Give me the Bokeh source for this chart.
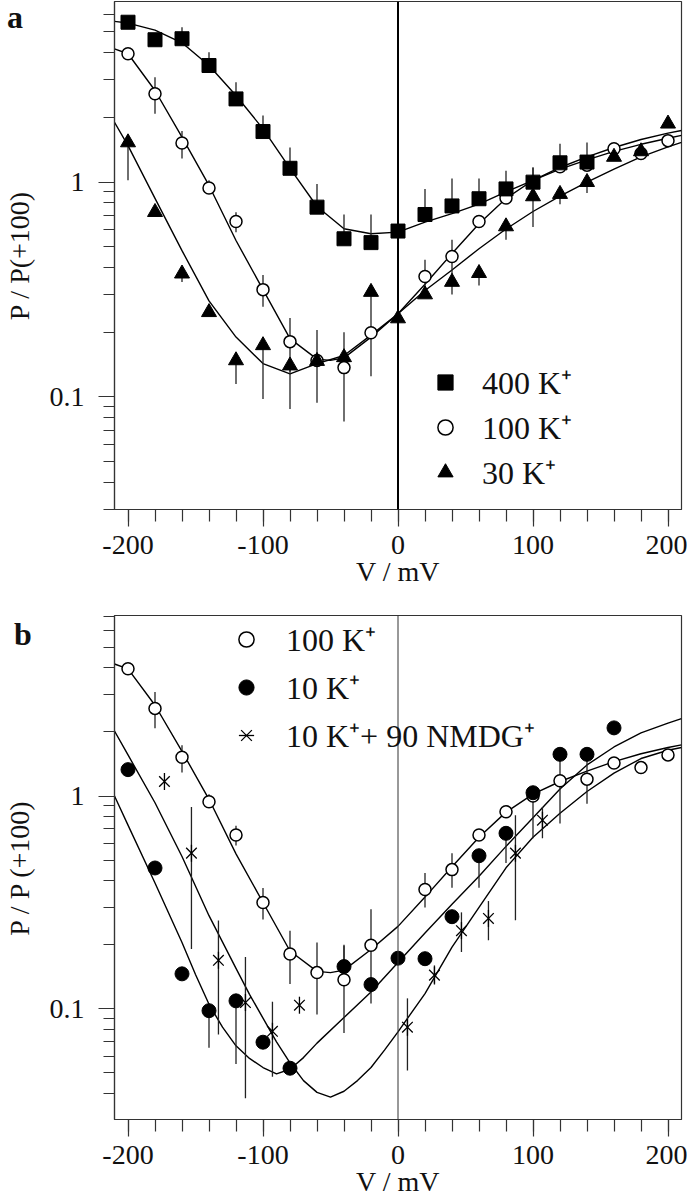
from bokeh.plotting import figure
from bokeh.layouts import column
from bokeh.models import (Range1d, FixedTicker, CustomJSTickFormatter, Span, Div,
                          Legend, LegendItem)
from bokeh.embed import file_html
from bokeh.resources import INLINE
import numpy as np

FONT = "Liberation Serif"

# ---------------- Panel a data ----------------
V_400 = [-200, -180, -160, -140, -120, -100, -80, -60, -40, -20, 0, 20, 40, 60, 80, 100, 120, 140]
P_400 = [5.55, 4.60, 4.65, 3.49, 2.44, 1.72, 1.16, 0.765, 0.545, 0.523, 0.592, 0.707, 0.775, 0.837, 0.93, 1.0, 1.23, 1.24]
HI_400 = [None, None, 5.26, 4.02, 2.92, 2.04, 1.45, 0.98, 0.707, 0.707, None, 0.93, 1.04, 1.04, 1.13, 1.17, 1.51, 1.53]

V_100 = [-200, -180, -160, -140, -120, -100, -80, -60, -40, -20, 20, 40, 60, 80, 100, 120, 140, 160, 180, 200]
P_100 = [3.96, 2.58, 1.52, 0.94, 0.656, 0.316, 0.181, 0.148, 0.137, 0.199, 0.364, 0.451, 0.656, 0.843, 1.0, 1.18, 1.2, 1.43, 1.36, 1.56]
LO_100 = [None, 2.08, 1.29, 0.88, 0.585, 0.263, 0.131, 0.094, 0.077, 0.125, 0.299, 0.371, None, None, None, None, None, None, None, None]
HI_100 = [None, 3.08, 1.73, 1.02, 0.725, 0.37, 0.233, 0.205, 0.20, 0.294, 0.435, 0.539, None, None, None, None, None, None, None, None]

V_30 = [-200, -180, -160, -140, -120, -100, -80, -60, -40, -20, 0, 20, 40, 60, 80, 100, 120, 140, 160, 180, 200]
P_30 = [1.53, 0.725, 0.375, 0.248, 0.148, 0.174, 0.14, 0.147, 0.153, 0.308, 0.232, 0.30, 0.343, 0.377, 0.622, 0.858, 0.88, 1.0, 1.31, 1.39, 1.87]
LO_30 = [1.02, None, 0.343, None, 0.115, 0.098, 0.088, None, None, None, None, None, 0.30, 0.33, 0.54, 0.618, 0.79, 0.89, None, None, None]
HI_30 = [None, None, None, None, None, None, None, None, None, None, None, None, None, None, None, 1.17, None, None, None, None, None]

# fitted curves
C400_V = [-210, -200, -180, -160, -140, -120, -100, -80, -60, -40, -20, 0, 20, 40, 60, 80, 100, 120, 140, 160, 180, 200, 210]
C400_P = [5.6, 5.5, 5.1, 4.45, 3.49, 2.53, 1.77, 1.16, 0.77, 0.607, 0.575, 0.585, 0.652, 0.713, 0.79, 0.90, 1.02, 1.15, 1.27, 1.39, 1.50, 1.60, 1.65]
C100_V = [-210, -200, -180, -160, -140, -120, -100, -80, -60, -50, -40, -20, 0, 20, 40, 60, 80, 100, 120, 140, 160, 180, 200, 210]
C100_P = [4.17, 3.96, 2.67, 1.62, 0.965, 0.535, 0.316, 0.187, 0.15, 0.148, 0.152, 0.19, 0.244, 0.335, 0.465, 0.64, 0.84, 1.02, 1.17, 1.31, 1.45, 1.58, 1.69, 1.74]
C30_V = [-210, -200, -180, -160, -140, -120, -100, -80, -60, -40, -20, 0, 20, 40, 60, 80, 100, 120, 140, 160, 180, 200, 210]
C30_P = [1.9, 1.48, 0.84, 0.48, 0.28, 0.19, 0.143, 0.128, 0.143, 0.156, 0.194, 0.244, 0.313, 0.39, 0.49, 0.605, 0.73, 0.86, 1.0, 1.15, 1.31, 1.46, 1.53]

# ---------------- Panel b data ----------------
V_10 = [-200, -180, -160, -140, -120, -100, -80, -40, -20, 0, 20, 40, 60, 80, 100, 120, 140, 160]
P_10 = [1.33, 0.459, 0.146, 0.098, 0.109, 0.0697, 0.0526, 0.158, 0.13, 0.173, 0.172, 0.271, 0.524, 0.668, 1.036, 1.57, 1.57, 2.09]
LO_10 = [None, None, 0.137, 0.0656, 0.055, None, None, None, 0.106, None, None, None, 0.371, 0.485, 0.633, 0.743, 0.92, None]
HI_10 = [None, None, None, None, None, None, None, 0.198, None, None, None, None, None, None, None, None, None, None]

V_NM = [-173, -153, -133, -113, -93, -73, 7, 27, 47, 67, 87, 107]
P_NM = [1.17, 0.539, 0.169, 0.107, 0.0784, 0.104, 0.082, 0.144, 0.233, 0.266, 0.539, 0.77]
LO_NM = [None, 0.191, 0.0757, 0.038, 0.048, None, 0.0513, 0.13, 0.185, 0.21, 0.261, 0.633]
HI_NM = [None, 0.889, 0.26, 0.175, 0.108, None, 0.112, 0.16, 0.284, 0.321, 0.812, 0.889]

C10_V = [-210, -200, -180, -160, -150, -140, -130, -120, -110, -100, -90, -80, -70, -60, -40, -20, 0, 20, 40, 60, 80, 100, 120, 140, 160, 180, 200, 210]
C10_P = [1.0, 0.73, 0.39, 0.205, 0.145, 0.105, 0.082, 0.067, 0.0585, 0.053, 0.0495, 0.052, 0.059, 0.069, 0.091, 0.12, 0.165, 0.227, 0.31, 0.42, 0.58, 0.79, 1.08, 1.40, 1.70, 1.98, 2.2, 2.31]
CNM_V = [-210, -200, -180, -160, -140, -120, -110, -100, -90, -80, -70, -60, -50, -40, -30, -20, -10, 0, 20, 40, 60, 80, 100, 120, 140, 160, 180, 200, 210]
CNM_P = [2.02, 1.56, 0.93, 0.52, 0.274, 0.155, 0.117, 0.0904, 0.07, 0.0558, 0.046, 0.0405, 0.0385, 0.041, 0.046, 0.053, 0.064, 0.078, 0.118, 0.195, 0.30, 0.46, 0.64, 0.83, 1.05, 1.28, 1.50, 1.64, 1.69]

X_MAJOR = [-200, -100, 0, 100, 200]
X_MINOR = list(range(-200, 201, 20))
Y_MAJOR = [0.1, 1]
Y_MINOR = [0.03, 0.04, 0.05, 0.06, 0.07, 0.08, 0.09, 0.2, 0.3, 0.4, 0.5, 0.6, 0.7, 0.8, 0.9, 2, 3, 4, 5, 6, 7]


def arr(a):
    return np.array([np.nan if v is None else v for v in a], dtype=float)


def bars(p, V, P, LO, HI):
    V = np.array(V, dtype=float)
    P = arr(P)
    lo = arr(LO)
    hi = arr(HI)
    lo = np.where(np.isnan(lo), P, lo)
    hi = np.where(np.isnan(hi), P, hi)
    m = lo != hi
    p.segment(x0=V[m], y0=lo[m], x1=V[m], y1=hi[m], line_color="#222222", line_width=1.3)


def make_fig(height, top, bottom, yr, ylabel):
    p = figure(width=687, height=height, x_range=Range1d(-210, 210), y_range=Range1d(*yr),
               y_axis_type="log", output_backend="svg", toolbar_location=None,
               min_border_left=108, min_border_right=6, min_border_top=top, min_border_bottom=bottom)
    p.grid.visible = False
    p.outline_line_color = "#333333"
    p.outline_line_width = 1.2
    p.background_fill_color = "white"
    p.border_fill_color = "white"
    xa = p.xaxis[0]
    xa.ticker = FixedTicker(ticks=X_MAJOR, minor_ticks=X_MINOR)
    xa.formatter = CustomJSTickFormatter(code="return tick.toString();")
    ya = p.yaxis[0]
    ya.ticker = FixedTicker(ticks=Y_MAJOR, minor_ticks=Y_MINOR)
    ya.formatter = CustomJSTickFormatter(code="return tick.toString();")
    for ax in (xa, ya):
        ax.axis_line_color = "#333333"
        ax.axis_line_width = 1.2
        ax.major_tick_line_color = "#333333"
        ax.minor_tick_line_color = "#333333"
        ax.major_tick_line_width = 1.2
        ax.minor_tick_line_width = 1.2
        ax.major_tick_in = 0
        ax.minor_tick_in = 0
        ax.major_label_text_font = FONT
        ax.major_label_text_font_size = "28px"
        ax.major_label_text_color = "#111111"
        ax.axis_label_text_font = FONT
        ax.axis_label_text_font_size = "28px"
        ax.axis_label_text_font_style = "normal"
        ax.axis_label_text_color = "#111111"
    xa.major_tick_out = 17
    xa.minor_tick_out = 12
    ya.major_tick_out = 16
    ya.minor_tick_out = 11
    xa.major_label_standoff = 9
    xa.axis_label = "V / mV"
    xa.axis_label_standoff = -1
    ya.major_label_standoff = 14
    ya.axis_label = ylabel
    ya.axis_label_standoff = 12
    return p


def curve(p, V, P):
    p.line(V, P, line_color="black", line_width=1.4)


def leg_style(lg, x, y, standoff, spacing):
    lg.location = (x, y)
    lg.padding = 0
    lg.margin = 0
    lg.border_line_alpha = 0
    lg.background_fill_alpha = 0
    lg.glyph_width = 38
    lg.glyph_height = 38
    lg.spacing = spacing
    lg.label_standoff = standoff
    lg.label_text_font = FONT
    lg.label_text_font_size = "32px"
    lg.label_text_color = "#111111"
    lg.label_text_baseline = "middle"


def panel_letter(text, left, top):
    return Div(text=text, width=30, height=34,
               styles={"position": "absolute", "left": f"{left}px", "top": f"{top}px",
                       "font-family": FONT, "font-size": "32px", "font-weight": "bold",
                       "line-height": "1", "color": "#111111", "z-index": "10"})


# ---------------- Panel a ----------------
pa = make_fig(612, 1, 103, (0.02995, 6.93), "P / P(+100)")
pa.add_layout(Span(location=0, dimension="height", line_color="black", line_width=2))
curve(pa, C400_V, C400_P)
curve(pa, C100_V, C100_P)
curve(pa, C30_V, C30_P)
bars(pa, V_400, P_400, [None] * len(V_400), HI_400)
bars(pa, V_100, P_100, LO_100, HI_100)
bars(pa, V_30, P_30, LO_30, HI_30)
r100 = pa.scatter(V_100, P_100, marker="circle", size=12, fill_color="white", line_color="black", line_width=1.5)
r400 = pa.scatter(V_400, P_400, marker="square", size=14, fill_color="black", line_color="black")
r30 = pa.scatter(V_30, P_30, marker="triangle", size=15, fill_color="black", line_color="black")
lga = Legend(items=[LegendItem(label="400 K\u207a", renderers=[r400]),
                    LegendItem(label="100 K\u207a", renderers=[r100]),
                    LegendItem(label="30 K\u207a", renderers=[r30])])
leg_style(lga, 312, 16, 18, 2)
pa.add_layout(lga)

# ---------------- Panel b ----------------
pb = make_fig(587, 3, 75, (0.0302, 7.05), "P / P (+100)")
pb.add_layout(Span(location=0, dimension="height", line_color="#333333", line_width=1))
curve(pb, C100_V, C100_P)
curve(pb, C10_V, C10_P)
curve(pb, CNM_V, CNM_P)
bars(pb, V_100, P_100, LO_100, HI_100)
bars(pb, V_10, P_10, LO_10, HI_10)
bars(pb, V_NM, P_NM, LO_NM, HI_NM)
rb100 = pb.scatter(V_100, P_100, marker="circle", size=12, fill_color="white", line_color="black", line_width=1.5)
rb10 = pb.scatter(V_10, P_10, marker="circle", size=14, fill_color="black", line_color="black")
rnm1 = pb.scatter(V_NM, P_NM, marker="x", size=15, line_color="black", line_width=1.3)
rnm2 = pb.scatter(V_NM, P_NM, marker="dash", angle=np.pi / 2, size=17, line_color="black", line_width=1.3)
lgb = Legend(items=[LegendItem(label="100 K\u207a", renderers=[rb100]),
                    LegendItem(label="10 K\u207a", renderers=[rb10]),
                    LegendItem(label="10 K\u207a+ 90 NMDG\u207a", renderers=[rnm1, rnm2])])
leg_style(lgb, 113, 363, 21, 5)
pb.add_layout(lgb)

layout = column(pa, pb, panel_letter("a", 2, -4), panel_letter("b", 9, 613), spacing=0)
open("out.html", "w").write(file_html(layout, INLINE))
